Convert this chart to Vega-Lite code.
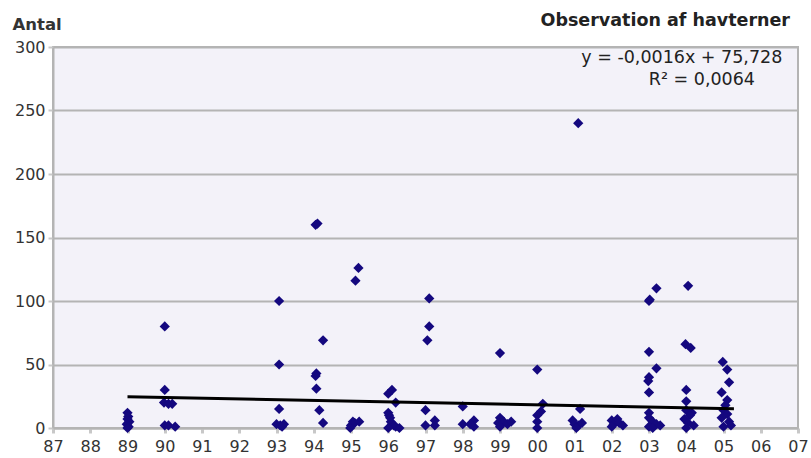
{
  "$schema": "https://vega.github.io/schema/vega-lite/v6.json",
  "autosize": {"type": "none"},
  "padding": {"left": 53, "top": 47, "right": 13, "bottom": 30},
  "width": 745,
  "height": 381,
  "background": "white",
  "title": {
    "text": "Observation af havterner",
    "anchor": "end",
    "frame": "group",
    "font": "DejaVu Sans",
    "fontSize": 17.5,
    "fontWeight": "bold",
    "color": "#222222",
    "baseline": "bottom",
    "offset": -31,
    "dx": -8
  },
  "config": {
    "view": {"fill": "#f3f2f9", "stroke": "#b4b4b4", "strokeWidth": 2},
    "font": "DejaVu Sans"
  },
  "datasets": {
    "obs": [
      {"aar": 1989.0, "antal": 12}, {"aar": 1989.02, "antal": 9}, {"aar": 1989.0, "antal": 7}, {"aar": 1989.05, "antal": 5}, {"aar": 1988.98, "antal": 3}, {"aar": 1989.03, "antal": 1}, {"aar": 1989.0, "antal": 0},
      {"aar": 1990.0, "antal": 80}, {"aar": 1990.0, "antal": 30}, {"aar": 1989.98, "antal": 20}, {"aar": 1990.1, "antal": 19}, {"aar": 1990.2, "antal": 19}, {"aar": 1990.0, "antal": 2}, {"aar": 1990.1, "antal": 2}, {"aar": 1990.28, "antal": 1},
      {"aar": 1993.07, "antal": 100}, {"aar": 1993.07, "antal": 50}, {"aar": 1993.07, "antal": 15}, {"aar": 1993.0, "antal": 3}, {"aar": 1993.1, "antal": 2}, {"aar": 1993.2, "antal": 3}, {"aar": 1993.15, "antal": 1},
      {"aar": 1994.05, "antal": 160}, {"aar": 1994.1, "antal": 161}, {"aar": 1994.07, "antal": 43}, {"aar": 1994.05, "antal": 41}, {"aar": 1994.07, "antal": 31}, {"aar": 1994.15, "antal": 14}, {"aar": 1994.25, "antal": 69}, {"aar": 1994.25, "antal": 4},
      {"aar": 1995.2, "antal": 126}, {"aar": 1995.12, "antal": 116}, {"aar": 1995.0, "antal": 2}, {"aar": 1995.05, "antal": 5}, {"aar": 1995.1, "antal": 4}, {"aar": 1995.22, "antal": 5}, {"aar": 1994.98, "antal": 0},
      {"aar": 1996.1, "antal": 30}, {"aar": 1996.0, "antal": 27}, {"aar": 1996.2, "antal": 20}, {"aar": 1996.0, "antal": 12}, {"aar": 1996.02, "antal": 10}, {"aar": 1996.05, "antal": 8}, {"aar": 1996.07, "antal": 5}, {"aar": 1996.1, "antal": 3}, {"aar": 1996.15, "antal": 2}, {"aar": 1996.2, "antal": 1}, {"aar": 1996.0, "antal": 0}, {"aar": 1996.3, "antal": 0},
      {"aar": 1997.1, "antal": 102}, {"aar": 1997.1, "antal": 80}, {"aar": 1997.05, "antal": 69}, {"aar": 1997.0, "antal": 14}, {"aar": 1997.0, "antal": 2}, {"aar": 1997.25, "antal": 6}, {"aar": 1997.25, "antal": 2},
      {"aar": 1998.0, "antal": 17}, {"aar": 1998.0, "antal": 3}, {"aar": 1998.3, "antal": 6}, {"aar": 1998.3, "antal": 1}, {"aar": 1998.2, "antal": 3},
      {"aar": 1999.0, "antal": 59}, {"aar": 1999.0, "antal": 8}, {"aar": 1998.95, "antal": 4}, {"aar": 1999.1, "antal": 5}, {"aar": 1999.2, "antal": 3}, {"aar": 1999.3, "antal": 5}, {"aar": 1999.0, "antal": 1},
      {"aar": 2000.0, "antal": 46}, {"aar": 2000.15, "antal": 19}, {"aar": 2000.1, "antal": 13}, {"aar": 2000.0, "antal": 10}, {"aar": 2000.0, "antal": 5}, {"aar": 2000.0, "antal": 0},
      {"aar": 2001.1, "antal": 240}, {"aar": 2001.15, "antal": 15}, {"aar": 2000.95, "antal": 6}, {"aar": 2001.0, "antal": 3}, {"aar": 2001.1, "antal": 2}, {"aar": 2001.2, "antal": 4}, {"aar": 2001.05, "antal": 0},
      {"aar": 2002.0, "antal": 6}, {"aar": 2002.05, "antal": 3}, {"aar": 2002.15, "antal": 7}, {"aar": 2002.2, "antal": 4}, {"aar": 2002.3, "antal": 2}, {"aar": 2002.0, "antal": 1},
      {"aar": 2003.2, "antal": 110}, {"aar": 2003.0, "antal": 100}, {"aar": 2003.02, "antal": 101}, {"aar": 2003.0, "antal": 60}, {"aar": 2003.2, "antal": 47}, {"aar": 2003.0, "antal": 40}, {"aar": 2002.98, "antal": 37}, {"aar": 2003.0, "antal": 28}, {"aar": 2003.0, "antal": 12}, {"aar": 2003.0, "antal": 8}, {"aar": 2003.1, "antal": 5}, {"aar": 2003.2, "antal": 3}, {"aar": 2003.3, "antal": 2}, {"aar": 2003.0, "antal": 1}, {"aar": 2003.1, "antal": 0},
      {"aar": 2004.05, "antal": 112}, {"aar": 2003.98, "antal": 66}, {"aar": 2004.12, "antal": 63}, {"aar": 2004.0, "antal": 30}, {"aar": 2004.0, "antal": 21}, {"aar": 2004.0, "antal": 14}, {"aar": 2004.15, "antal": 12}, {"aar": 2004.1, "antal": 10}, {"aar": 2003.95, "antal": 7}, {"aar": 2004.05, "antal": 4}, {"aar": 2004.2, "antal": 2}, {"aar": 2004.0, "antal": 0},
      {"aar": 2004.98, "antal": 52}, {"aar": 2005.1, "antal": 46}, {"aar": 2005.15, "antal": 36}, {"aar": 2004.95, "antal": 28}, {"aar": 2005.1, "antal": 22}, {"aar": 2005.05, "antal": 18}, {"aar": 2005.0, "antal": 14}, {"aar": 2005.1, "antal": 11}, {"aar": 2004.95, "antal": 8}, {"aar": 2005.15, "antal": 5}, {"aar": 2005.2, "antal": 2}, {"aar": 2005.0, "antal": 1}
    ],
    "trend": [
      {"aar": 1989.0, "antal": 24.7},
      {"aar": 2005.28, "antal": 15.2}
    ],
    "eq": [
      {"aar": 2003.88, "antal": 291.7, "tekst": "y = -0,0016x + 75,728"},
      {"aar": 2004.42, "antal": 274, "tekst": "R² = 0,0064"}
    ]
  },
  "encoding": {
    "x": {
      "field": "aar",
      "type": "quantitative",
      "scale": {"domain": [1987, 2007], "nice": false, "zero": false},
      "axis": {
        "title": null,
        "values": [1987, 1988, 1989, 1990, 1991, 1992, 1993, 1994, 1995, 1996, 1997, 1998, 1999, 2000, 2001, 2002, 2003, 2004, 2005, 2006, 2007],
        "labelExpr": "substring(toString(datum.value), 2, 4)",
        "grid": false,
        "domainColor": "#b4b4b4",
        "domainWidth": 2,
        "tickColor": "#c8c8c8",
        "tickWidth": 3,
        "tickSize": 5,
        "labelPadding": 5,
        "labelFont": "DejaVu Sans",
        "labelFontSize": 16,
        "labelColor": "#333333",
        "labelFlush": false
      }
    },
    "y": {
      "field": "antal",
      "type": "quantitative",
      "scale": {"domain": [0, 300], "nice": false},
      "axis": {
        "title": "Antal",
        "titleAngle": 0,
        "titleAlign": "left",
        "titleBaseline": "bottom",
        "titleX": -41,
        "titleY": -15,
        "titleFont": "DejaVu Sans",
        "titleFontSize": 16.5,
        "titleFontWeight": "bold",
        "titleColor": "#333333",
        "values": [0, 50, 100, 150, 200, 250, 300],
        "grid": true,
        "gridColor": "#b4b4b4",
        "gridWidth": 2,
        "domainColor": "#b4b4b4",
        "domainWidth": 2,
        "tickColor": "#c8c8c8",
        "tickWidth": 2,
        "tickSize": 5,
        "labelPadding": 3,
        "labelFont": "DejaVu Sans",
        "labelFontSize": 16,
        "labelColor": "#333333",
        "labelFlush": false
      }
    }
  },
  "layer": [
    {
      "data": {"name": "obs"},
      "mark": {"type": "point", "shape": "diamond", "filled": true, "size": 105, "color": "#14087f", "opacity": 1}
    },
    {
      "data": {"name": "trend"},
      "mark": {"type": "line", "color": "#000000", "strokeWidth": 3}
    },
    {
      "data": {"name": "eq"},
      "mark": {"type": "text", "font": "DejaVu Sans", "fontSize": 17.5, "color": "#222222", "align": "center", "baseline": "middle"},
      "encoding": {"text": {"field": "tekst"}}
    }
  ]
}
